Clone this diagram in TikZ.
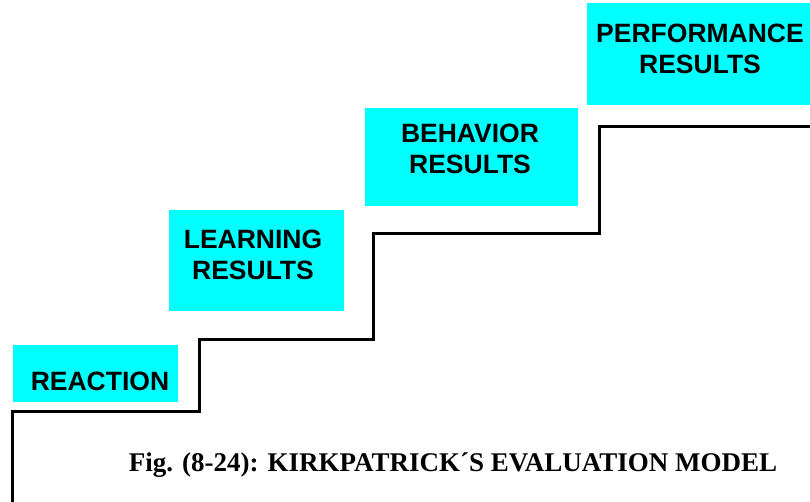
\documentclass[tikz,border=0pt]{standalone}
\usepackage{fontspec}
\setmainfont{Liberation Serif}
\newfontfamily\boxfont{Liberation Sans}
\definecolor{stepcyan}{RGB}{0,255,255}
\begin{document}
\begin{tikzpicture}[x=1pt,y=-1pt,
  levelbox/.style={fill=stepcyan, draw=none, anchor=north west, inner sep=0pt},
  leveltext/.style={font=\boxfont\bfseries\fontsize{26.5}{31}\selectfont, align=center, text=black, inner sep=0pt},
  stair/.style={line width=3pt, line join=miter, line cap=rect}]
  \useasboundingbox (0,0) rectangle (810,501);

  % cyan level boxes
  \node[levelbox, minimum width=165pt, minimum height=57pt] (reactbox) at (13,345) {};
  \node[levelbox, minimum width=175pt, minimum height=101pt] (learnbox) at (169,210) {};
  \node[levelbox, minimum width=213pt, minimum height=98pt] (behavbox) at (365,108) {};
  \node[levelbox, minimum width=223pt, minimum height=102pt] (perfbox) at (587,3) {};

  % level labels
  \node[leveltext] (reacttext) at (100,381) {REACTION};
  \node[leveltext] (learntext) at (253,255) {LEARNING\\RESULTS};
  \node[leveltext] (behavtext) at (470,149) {BEHAVIOR\\RESULTS};
  \node[leveltext] (perftext) at (700,49) {PERFORMANCE\\RESULTS};

  % staircase
  \draw[stair] (12,501) -- (12,411) -- (199,411) -- (199,339) -- (373,339)
    -- (373,233) -- (599,233) -- (599,126) -- (812,126);

  % caption
  \node[font=\bfseries\fontsize{27}{32}\selectfont] (caption) at (453,465)
    {Fig. (8-24): KIRKPATRICK\char"00B4S EVALUATION MODEL};
\end{tikzpicture}
\end{document}
